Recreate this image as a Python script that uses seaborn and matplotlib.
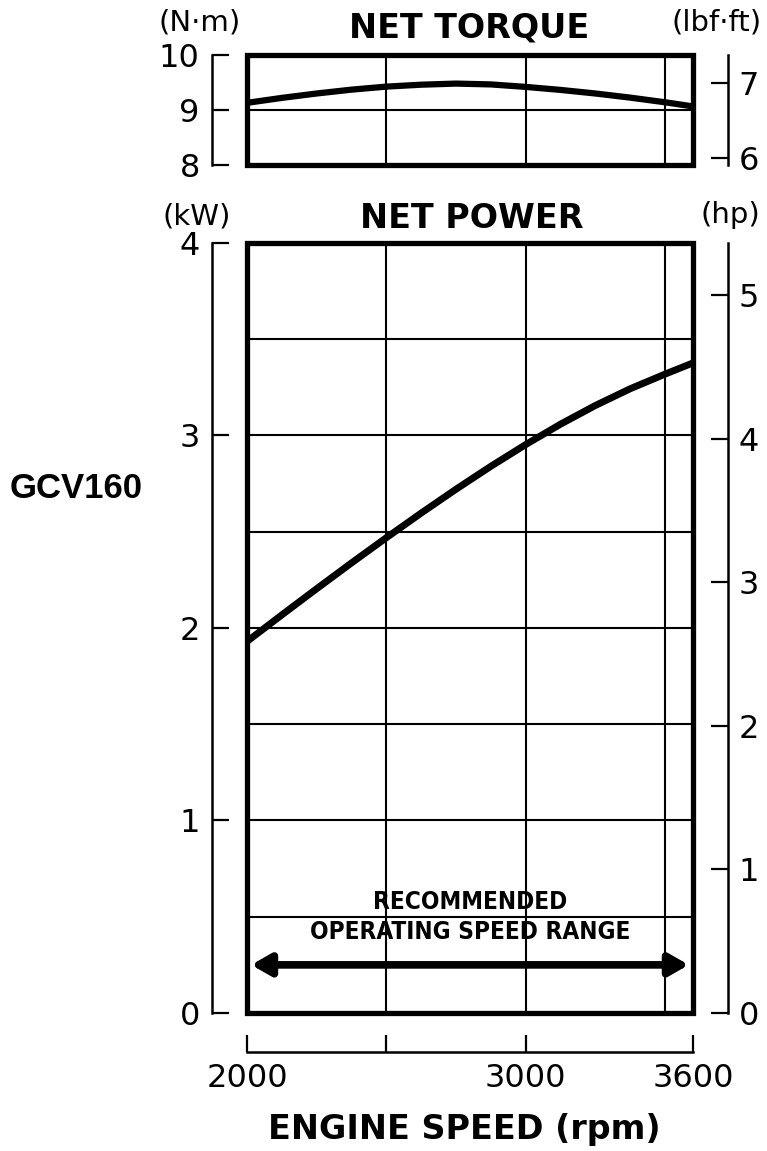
import numpy as np
import pandas as pd
import seaborn as sns
import matplotlib.pyplot as plt
from matplotlib.patches import Rectangle

# Data
rpm = [2000, 2125, 2250, 2375, 2500, 2625, 2750, 2875, 3000, 3125, 3250,
       3375, 3500, 3600]
torque_nm = [9.13, 9.22, 9.30, 9.37, 9.425, 9.46, 9.48, 9.465, 9.42, 9.365,
             9.30, 9.225, 9.14, 9.065]
power_kw = [1.93, 2.068, 2.204, 2.338, 2.469, 2.597, 2.721, 2.84, 2.953,
            3.059, 3.156, 3.243, 3.319, 3.377]

speed_ticks = [2000, 2500, 3000, 3600]
speed_labels = ["2000", "", "3000", "3600"]
grid_rpm = [2500, 3000, 3500]
torque_ticks = [8, 9, 10]
torque_lbf_ticks = [6, 7]
power_ticks = [0, 1, 2, 3, 4]
power_hp_ticks = [0, 1, 2, 3, 4, 5]
power_grid = [0.5, 1.0, 1.5, 2.0, 2.5, 3.0, 3.5]
recommended_range = [2000, 3600]

NM_TO_LBFFT = 0.7376
KW_TO_HP = 1.341

df = pd.DataFrame({"rpm": rpm, "torque": torque_nm, "power": power_kw})

sns.set_theme(style="ticks")
plt.rcParams["font.family"] = ["DejaVu Sans"]
plt.rcParams["text.color"] = "black"
plt.rcParams["xtick.color"] = "black"
plt.rcParams["ytick.color"] = "black"
plt.rcParams["axes.edgecolor"] = "black"

fig = plt.figure(figsize=(7.67, 11.51), dpi=100)
ax_t = fig.add_axes([0.3220, 0.85665, 0.5815, 0.09557])
ax_p = fig.add_axes([0.3220, 0.11990, 0.5815, 0.66898])


def style_axes(ax, ylim, yticks, conv, rticks, bottom_axis):
    ax.set_xlim(2000, 3600)
    ax.set_ylim(*ylim)
    ax.set_yticks(yticks)
    for g in grid_rpm:
        ax.axvline(g, color="black", lw=1.5, zorder=1)
    ax.add_patch(Rectangle((0, 0), 1, 1, transform=ax.transAxes, fill=False,
                           ec="black", lw=3.8, clip_on=False, zorder=6))
    ax.tick_params(axis="y", direction="in", length=12, width=1.6, pad=9,
                   labelsize=23, colors="black")
    if bottom_axis:
        sns.despine(ax=ax, offset={"left": 25, "bottom": 28})
        ax.set_xticks(speed_ticks)
        ax.set_xticklabels(speed_labels)
        ax.tick_params(axis="x", direction="in", length=12, width=1.6, pad=8,
                       labelsize=23, colors="black")
    else:
        sns.despine(ax=ax, bottom=True, offset={"left": 25})
        ax.set_xticks([])
    for s in ["left", "bottom"]:
        ax.spines[s].set_linewidth(1.8)
    ax.set_xlabel("")
    ax.set_ylabel("")

    ax_r = ax.twinx()
    ax_r.set_ylim(ylim[0] * conv, ylim[1] * conv)
    ax_r.set_yticks(rticks)
    sns.despine(ax=ax_r, left=True, right=False, top=True, bottom=True,
                offset={"right": 25})
    ax_r.spines["right"].set_linewidth(1.8)
    ax_r.tick_params(axis="y", right=True, left=False, labelright=True,
                     labelleft=False, direction="in", length=12, width=1.6,
                     pad=8, labelsize=23, colors="black")
    ax_r.grid(False)
    return ax_r


# Torque panel
ax_t.axhline(9, color="black", lw=1.5, zorder=1)
sns.lineplot(data=df, x="rpm", y="torque", ax=ax_t, color="black", lw=4.5,
             zorder=3)
style_axes(ax_t, (8, 10), torque_ticks, NM_TO_LBFFT, torque_lbf_ticks, False)

# Power panel
for h in power_grid:
    ax_p.axhline(h, color="black", lw=1.5, zorder=1)
sns.lineplot(data=df, x="rpm", y="power", ax=ax_p, color="black", lw=5,
             zorder=3)
style_axes(ax_p, (0, 4), power_ticks, KW_TO_HP, power_hp_ticks, True)

# Recommended operating range
ax_p.annotate("", xy=(recommended_range[1], 0.25),
              xytext=(recommended_range[0], 0.25),
              arrowprops=dict(arrowstyle="<|-|>,head_length=0.7,head_width=0.4",
                              lw=5.5, color="black", mutation_scale=16,
                              shrinkA=3, shrinkB=3),
              zorder=4)
ax_p.text(0.5, 0.575 / 4, "RECOMMENDED", transform=ax_p.transAxes,
          ha="center", va="center", fontsize=17.5, fontweight="bold",
          fontstretch="condensed", zorder=4)
ax_p.text(0.5, 0.42 / 4, "OPERATING SPEED RANGE", transform=ax_p.transAxes,
          ha="center", va="center", fontsize=17.5, fontweight="bold",
          fontstretch="condensed", zorder=4)

# Titles and unit labels
W, H = 767, 1151


def ftext(x, y, s, **kw):
    fig.text(x / W, 1 - y / H, s, ha="center", va="center", **kw)


ftext(469, 28, "NET TORQUE", fontsize=24, fontweight="bold")
ftext(472, 218, "NET POWER", fontsize=24, fontweight="bold")
ftext(464, 1130, "ENGINE SPEED (rpm)", fontsize=24, fontweight="bold")
ftext(200, 23, "(N·m)", fontsize=21)
ftext(717, 23, "(lbf·ft)", fontsize=21)
ftext(197, 216, "(kW)", fontsize=21)
ftext(730, 215, "(hp)", fontsize=21)
fig.text(10 / W, 1 - 489 / H, "GCV160", ha="left", va="center", fontsize=25,
         fontweight="bold", family=["Liberation Sans", "DejaVu Sans"])

fig.savefig("out.png", dpi=100)
